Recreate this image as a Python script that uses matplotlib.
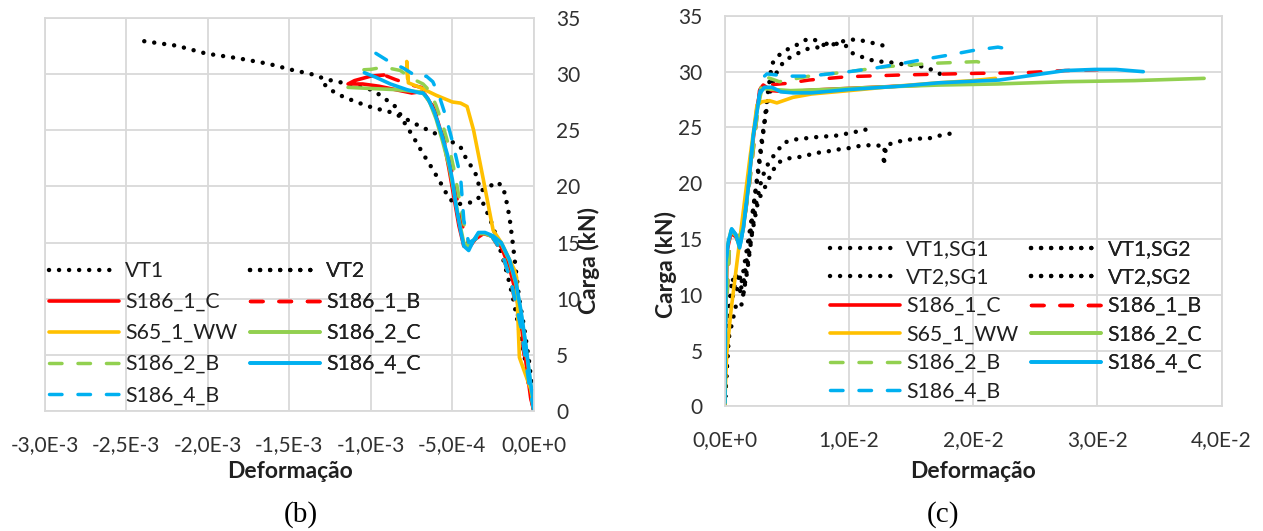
import math
import matplotlib
matplotlib.use("Agg")
import matplotlib.pyplot as plt
from matplotlib.ticker import FuncFormatter, MultipleLocator

plt.rcParams['font.family'] = ['Lato', 'DejaVu Sans']

# ---------------- panel (b): compression side, strain in 1e-3 ----------------
b_vt1_x = [-2.39, -2.34, -2.19, -2.01, -1.82, -1.63, -1.47, -1.37, -1.27, -1.17, -1.08, -1.00,
           -0.93, -0.88, -0.84, -0.80, -0.74, -0.68, -0.62, -0.56, -0.52, -0.47, -0.43, -0.37,
           -0.33, -0.29, -0.25, -0.22, -0.19, -0.16, -0.13, -0.10, -0.07, -0.04, -0.01, 0.0]
b_vt1_y = [32.9, 32.8, 32.5, 31.8, 31.4, 30.9, 30.3, 30.0, 29.5, 29.2, 28.9, 28.6,
           28.0, 27.4, 27.0, 25.8, 24.4, 22.9, 21.5, 20.0, 18.9, 18.4, 18.5, 18.6,
           19.1, 17.8, 16.4, 15.0, 13.6, 12.0, 10.2, 8.0, 5.8, 3.5, 1.0, 0.0]
b_vt2_x = [-1.28, -1.25, -1.19, -1.09, -0.99, -0.88, -0.80, -0.72, -0.62, -0.53, -0.45, -0.41,
           -0.38, -0.35, -0.33, -0.29, -0.23, -0.19, -0.17, -0.15, -0.13, -0.11, -0.09, -0.06,
           -0.03, -0.01, 0.0]
b_vt2_y = [29.0, 28.6, 28.1, 27.5, 27.0, 26.6, 26.1, 25.5, 24.8, 24.2, 23.5, 22.3,
           21.7, 20.9, 19.6, 19.8, 20.4, 20.0, 18.8, 17.3, 15.0, 12.5, 10.0, 7.5,
           4.5, 2.0, 0.0]

b_s186_1c_x = [0, -0.02, -0.05, -0.08, -0.11, -0.15, -0.20, -0.26, -0.31, -0.36, -0.40, -0.43,
               -0.46, -0.49, -0.52, -0.55, -0.59, -0.63, -0.67, -0.70, -0.75, -0.85, -0.95,
               -1.05, -1.14, -1.10, -1.00, -0.92]
b_s186_1c_y = [0, 1.2, 4.5, 8.0, 10.5, 12.8, 14.6, 15.6, 15.8, 15.3, 14.5, 14.7,
               16.5, 19.0, 21.5, 23.8, 25.8, 27.3, 28.2, 28.4, 28.3, 28.6, 28.9,
               29.1, 29.1, 29.4, 29.8, 29.9]
b_s186_1b_x = [0, -0.03, -0.08, -0.14, -0.20, -0.26, -0.31, -0.36, -0.40, -0.43, -0.46, -0.49,
               -0.53, -0.57, -0.61, -0.65, -0.69, -0.75, -0.85, -0.92]
b_s186_1b_y = [0, 2.0, 7.0, 11.5, 14.2, 15.6, 15.8, 15.3, 14.8, 16.0, 18.0, 20.5,
               23.0, 25.0, 26.8, 28.0, 28.8, 29.0, 29.5, 29.9]
b_s65_x = [0, -0.02, -0.089, -0.10, -0.106, -0.12, -0.16, -0.20, -0.25, -0.31, -0.37, -0.41,
           -0.45, -0.50, -0.60, -0.70, -0.77, -0.78, -0.775]
b_s65_y = [0.5, 2.0, 4.8, 9.0, 11.9, 12.6, 13.8, 15.0, 16.1, 20.6, 25.0, 27.1,
           27.4, 27.5, 28.1, 28.8, 29.2, 31.1, 29.6]
b_s186_2c_x = [0, -0.02, -0.05, -0.08, -0.11, -0.15, -0.20, -0.25, -0.30, -0.34, -0.37, -0.40,
               -0.43, -0.46, -0.49, -0.52, -0.56, -0.60, -0.64, -0.68, -0.70, -0.85, -1.00, -1.14]
b_s186_2c_y = [0.5, 2.3, 5.8, 8.8, 11.3, 13.4, 14.9, 15.5, 15.8, 15.8, 15.2, 14.6,
               15.0, 17.0, 19.5, 21.8, 24.0, 26.0, 27.5, 28.3, 28.4, 28.6, 28.7, 28.8]
b_s186_2b_x = [0, -0.03, -0.08, -0.14, -0.20, -0.26, -0.31, -0.36, -0.40, -0.43, -0.46, -0.49,
               -0.52, -0.56, -0.60, -0.64, -0.68, -0.75, -0.82, -0.92, -1.00, -1.12]
b_s186_2b_y = [0, 2.5, 7.5, 11.5, 14.3, 15.6, 15.8, 15.3, 14.9, 16.7, 19.1, 21.5,
               23.5, 25.5, 27.2, 28.5, 29.1, 29.6, 30.3, 30.6, 30.4, 30.3]
b_s186_4c_x = [0, -0.02, -0.05, -0.08, -0.11, -0.15, -0.20, -0.25, -0.30, -0.34, -0.37, -0.40,
               -0.43, -0.45, -0.48, -0.50, -0.53, -0.57, -0.61, -0.65, -0.68, -0.70, -0.78,
               -0.88, -0.97, -1.04]
b_s186_4c_y = [0.6, 2.5, 6.0, 9.0, 11.5, 13.5, 15.0, 15.6, 15.9, 15.9, 15.2, 14.3,
               14.7, 16.1, 18.5, 20.6, 22.8, 24.8, 26.6, 27.8, 28.3, 28.3, 28.6,
               29.1, 29.7, 30.1]
b_s186_4b_x = [0, -0.03, -0.08, -0.14, -0.20, -0.26, -0.31, -0.36, -0.40, -0.43, -0.45, -0.50,
               -0.54, -0.58, -0.62, -0.66, -0.70, -0.80, -0.90, -1.00]
b_s186_4b_y = [0, 2.5, 7.5, 11.5, 14.3, 15.6, 15.8, 15.3, 15.0, 17.0, 20.9, 24.0,
               26.2, 28.0, 29.3, 29.8, 29.6, 30.5, 31.2, 32.1]

# ---------------- panel (c): tension side, strain in 1e-2 ----------------
c_vt1sg1_x = [0, 0.01, 0.03, 0.06, 0.12, 0.17, 0.22, 0.27, 0.31, 0.34, 0.38, 0.44, 0.52, 0.60,
              0.66, 0.72, 0.78, 0.85, 0.90, 0.97, 1.06, 1.14, 1.22, 1.29]
c_vt1sg1_y = [0, 3.0, 8.0, 11.5, 10.0, 13.5, 17.0, 21.0, 24.5, 27.5, 30.7, 31.5, 32.1, 32.5,
              32.9, 32.9, 32.4, 32.4, 32.5, 32.8, 32.9, 32.7, 32.5, 32.3]
c_vt1sg2_x = [0, 0.02, 0.05, 0.10, 0.15, 0.20, 0.25, 0.30, 0.35, 0.40, 0.48, 0.58, 0.68, 0.77,
              0.82, 0.90, 0.97, 1.02, 1.11, 1.22, 1.30, 1.41, 1.52, 1.62, 1.70, 1.75]
c_vt1sg2_y = [0, 4.0, 9.0, 12.0, 11.0, 15.0, 19.5, 24.0, 27.5, 29.6, 31.0, 31.6, 32.1, 32.2,
              32.5, 32.5, 32.4, 31.7, 31.3, 30.9, 30.9, 30.7, 30.6, 30.4, 30.0, 29.7]
c_vt2sg1_x = [0, 0.02, 0.05, 0.10, 0.15, 0.20, 0.25, 0.30, 0.36, 0.42, 0.47, 0.55, 0.63, 0.71,
              0.79, 0.87, 0.95, 1.03, 1.10, 1.18]
c_vt2sg1_y = [0, 5.0, 10.5, 12.0, 10.0, 14.0, 18.0, 20.5, 22.0, 22.8, 23.6, 23.9, 24.0, 24.1,
              24.2, 24.2, 24.4, 24.5, 24.8, 24.8]
c_vt2sg2_x = [0, 0.03, 0.09, 0.13, 0.18, 0.22, 0.27, 0.31, 0.36, 0.42, 0.50, 0.56, 0.64, 0.72,
              0.81, 0.89, 0.98, 1.06, 1.14, 1.22, 1.29, 1.28, 1.28, 1.30, 1.38, 1.48, 1.56,
              1.64, 1.70, 1.79, 1.85]
c_vt2sg2_y = [0, 6.0, 9.0, 8.8, 12.0, 15.5, 18.5, 19.3, 20.5, 21.8, 22.2, 22.3, 22.4, 22.7,
              22.8, 23.0, 23.1, 23.3, 23.4, 23.4, 23.3, 22.4, 21.6, 23.4, 23.7, 23.9, 24.0,
              24.0, 24.2, 24.4, 24.5]

c_s186_1c_x = [0, 0.005, 0.02, 0.05, 0.09, 0.12, 0.15, 0.19, 0.23, 0.26, 0.29, 0.31, 0.38,
               0.50, 0.80, 1.20, 1.60]
c_s186_1c_y = [0, 7.0, 14.0, 15.5, 15.2, 14.5, 16.0, 19.8, 24.0, 26.8, 28.5, 28.8, 28.3,
               28.2, 28.4, 28.6, 28.8]
c_s186_1b_x = [0, 0.01, 0.04, 0.10, 0.15, 0.20, 0.25, 0.28, 0.31, 0.34, 0.50, 0.68, 0.99,
               1.41, 2.03, 2.40, 2.74, 3.08]
c_s186_1b_y = [0, 8.0, 14.5, 14.8, 16.0, 20.0, 25.0, 28.3, 29.0, 28.8, 28.95, 29.25, 29.55,
               29.7, 29.85, 29.9, 30.1, 30.2]
c_s65_x = [0, 0.016, 0.05, 0.10, 0.15, 0.20, 0.26, 0.30, 0.36, 0.42, 0.55, 0.70, 1.00,
           1.38, 1.72, 2.00, 2.18]
c_s65_y = [0, 4.7, 8.5, 13.0, 17.5, 22.0, 27.0, 27.3, 27.4, 27.2, 27.7, 28.0, 28.3,
           28.7, 29.0, 29.2, 29.4]
c_s186_2c_x = [0, 0.005, 0.02, 0.05, 0.09, 0.12, 0.15, 0.19, 0.23, 0.26, 0.30, 0.40, 0.53,
               0.80, 1.20, 1.72, 2.20, 2.74, 3.30, 3.86]
c_s186_2c_y = [0, 6.5, 14.3, 15.7, 15.3, 14.3, 16.0, 19.6, 24.2, 26.5, 28.5, 28.4, 28.3,
               28.4, 28.6, 28.8, 28.9, 29.1, 29.2, 29.4]
c_s186_2b_x = [0, 0.01, 0.04, 0.10, 0.15, 0.20, 0.25, 0.30, 0.34, 0.44, 0.68, 1.00, 1.30,
               1.68, 2.03, 2.07]
c_s186_2b_y = [0, 8.0, 14.5, 14.8, 16.0, 20.0, 25.0, 29.3, 29.5, 29.1, 29.6, 30.0, 30.45,
               30.75, 30.9, 30.8]
c_s186_4c_x = [0, 0.005, 0.01, 0.03, 0.056, 0.09, 0.12, 0.15, 0.19, 0.23, 0.26, 0.28, 0.32,
               0.38, 0.45, 0.55, 0.70, 1.00, 1.41, 1.72, 2.21, 2.74, 2.98, 3.15, 3.37]
c_s186_4c_y = [0.3, 6.0, 13.0, 14.8, 15.9, 15.4, 14.2, 16.0, 19.6, 24.3, 26.4, 28.0, 28.6,
               28.6, 28.2, 28.1, 28.1, 28.4, 28.7, 29.0, 29.25, 30.1, 30.2, 30.2, 30.0]
c_s186_4b_x = [0, 0.005, 0.01, 0.03, 0.056, 0.09, 0.12, 0.15, 0.19, 0.23, 0.26, 0.30, 0.34,
               0.50, 0.68, 1.00, 1.20, 1.41, 1.60, 1.81, 2.00, 2.20, 2.30]
c_s186_4b_y = [0.3, 6.0, 13.0, 14.8, 15.9, 15.4, 14.2, 16.0, 19.6, 24.3, 26.4, 29.4, 29.8,
               29.6, 29.6, 30.0, 30.3, 30.7, 31.1, 31.5, 31.9, 32.2, 32.0]

b_x_ticks = [-3.0e-3, -2.5e-3, -2.0e-3, -1.5e-3, -1.0e-3, -0.5e-3, 0.0]
c_x_ticks = [0.0, 1.0e-2, 2.0e-2, 3.0e-2, 4.0e-2]

RED, YEL, GRN, BLU = "#FF0000", "#FFC000", "#92D050", "#00B0F0"
GRID = "#D9D9D9"
W, H = 1263, 531


def sci_comma(v, _pos=None):
    if abs(v) < 1e-12:
        return "0,0E+0"
    e = int(math.floor(math.log10(abs(v)) + 1e-9))
    m = v / 10 ** e
    return f"{m:.1f}".replace(".", ",") + f"E{e:+d}"


dotted = dict(color="black", lw=3.2, linestyle=(0, (0.01, 2.25)), dash_capstyle="round")
dashed = dict(lw=2.5, linestyle=(0, (3.6, 4.6)), dash_capstyle="round")
solid = dict(lw=2.6, solid_capstyle="round")


def style(ax):
    ax.grid(True, color=GRID, lw=1.3)
    ax.set_axisbelow(True)
    for s in ax.spines.values():
        s.set_color(GRID)
        s.set_linewidth(1.3)
    ax.xaxis.set_major_formatter(FuncFormatter(sci_comma))
    ax.yaxis.set_major_locator(MultipleLocator(5))
    ax.set_ylim(0, 35)
    ax.tick_params(length=0, labelsize=15, colors="#303030")
    ax.tick_params(axis="x", pad=17)
    ax.tick_params(axis="y", pad=16)


fig = plt.figure(figsize=(W / 100, H / 100), dpi=100)
ax_b = fig.add_axes([44.8 / W, 1 - 411.4 / H, 489.1 / W, 393.8 / H])
ax_c = fig.add_axes([724.7 / W, 1 - 406.3 / H, 496.8 / W, 390.4 / H])

# panel (b)
k = 1e-3
hb = {}
hb["VT1"], = ax_b.plot([v * k for v in b_vt1_x], b_vt1_y, **dotted)
hb["VT2"], = ax_b.plot([v * k for v in b_vt2_x], b_vt2_y, **dotted)
hb["S186_1_C"], = ax_b.plot([v * k for v in b_s186_1c_x], b_s186_1c_y, color=RED, **solid)
hb["S186_1_B"], = ax_b.plot([v * k for v in b_s186_1b_x], b_s186_1b_y, color=RED, **dashed)
hb["S65_1_WW"], = ax_b.plot([v * k for v in b_s65_x], b_s65_y, color=YEL, **solid)
hb["S186_2_C"], = ax_b.plot([v * k for v in b_s186_2c_x], b_s186_2c_y, color=GRN, **solid)
hb["S186_2_B"], = ax_b.plot([v * k for v in b_s186_2b_x], b_s186_2b_y, color=GRN, **dashed)
hb["S186_4_C"], = ax_b.plot([v * k for v in b_s186_4c_x], b_s186_4c_y, color=BLU, **solid)
hb["S186_4_B"], = ax_b.plot([v * k for v in b_s186_4b_x], b_s186_4b_y, color=BLU, **dashed)
ax_b.set_xlim(-3e-3, 0)
ax_b.set_xticks(b_x_ticks)
style(ax_b)
ax_b.yaxis.tick_right()

# panel (c)
k = 1e-2
hc = {}
hc["VT1,SG1"], = ax_c.plot([v * k for v in c_vt1sg1_x], c_vt1sg1_y, **dotted)
hc["VT1,SG2"], = ax_c.plot([v * k for v in c_vt1sg2_x], c_vt1sg2_y, **dotted)
hc["VT2,SG1"], = ax_c.plot([v * k for v in c_vt2sg1_x], c_vt2sg1_y, **dotted)
hc["VT2,SG2"], = ax_c.plot([v * k for v in c_vt2sg2_x], c_vt2sg2_y, **dotted)
hc["S186_1_C"], = ax_c.plot([v * k for v in c_s186_1c_x], c_s186_1c_y, color=RED, **solid)
hc["S186_1_B"], = ax_c.plot([v * k for v in c_s186_1b_x], c_s186_1b_y, color=RED, **dashed)
hc["S65_1_WW"], = ax_c.plot([v * k for v in c_s65_x], c_s65_y, color=YEL, **solid)
hc["S186_2_C"], = ax_c.plot([v * k for v in c_s186_2c_x], c_s186_2c_y, color=GRN, **solid)
hc["S186_2_B"], = ax_c.plot([v * k for v in c_s186_2b_x], c_s186_2b_y, color=GRN, **dashed)
hc["S186_4_C"], = ax_c.plot([v * k for v in c_s186_4c_x], c_s186_4c_y, color=BLU, **solid)
hc["S186_4_B"], = ax_c.plot([v * k for v in c_s186_4b_x], c_s186_4b_y, color=BLU, **dashed)
ax_c.set_xlim(0, 4e-2)
ax_c.set_xticks(c_x_ticks)
style(ax_c)


def legend_col(ax, handles, names, x_px, ytop_px, spacing):
    leg = ax.legend([handles[n] for n in names], names, loc="upper left",
                    bbox_to_anchor=(x_px / W, 1 - ytop_px / H), bbox_transform=fig.transFigure,
                    frameon=False, borderpad=0, borderaxespad=0, handlelength=3.3,
                    handletextpad=0.3, labelspacing=spacing, fontsize=15.3,
                    labelcolor="#202020")
    ax.add_artist(leg)


legend_col(ax_b, hb, ["VT1", "S186_1_C", "S65_1_WW", "S186_2_B", "S186_4_B"], 48.6, 261, 0.52)
legend_col(ax_b, hb, ["VT2", "S186_1_B", "S186_2_C", "S186_4_C"], 249.5, 261, 0.52)
legend_col(ax_c, hc, ["VT1,SG1", "VT2,SG1", "S186_1_C", "S65_1_WW", "S186_2_B", "S186_4_B"],
           829.6, 239, 0.40)
legend_col(ax_c, hc, ["VT1,SG2", "VT2,SG2", "S186_1_B", "S186_2_C", "S186_4_C"],
           1031, 239, 0.40)

# axis titles and panel captions
lab = dict(fontsize=16.5, fontweight="bold", color="#202020", ha="center", va="center")
fig.text(289.7 / W, 1 - 472 / H, "Deformação", **lab)
fig.text(973.3 / W, 1 - 472 / H, "Deformação", **lab)
fig.text(589 / W, 1 - 261 / H, "Carga (kN)", rotation=90, **lab)
fig.text(665.5 / W, 1 - 264 / H, "Carga (kN)", rotation=90, **lab)
cap = dict(fontsize=21, family="Liberation Serif", ha="center", va="center")
fig.text(300.4 / W, 1 - 514.7 / H, "(b)", **cap)
fig.text(943.3 / W, 1 - 514.7 / H, "(c)", **cap)

fig.savefig("out.png", dpi=100)
